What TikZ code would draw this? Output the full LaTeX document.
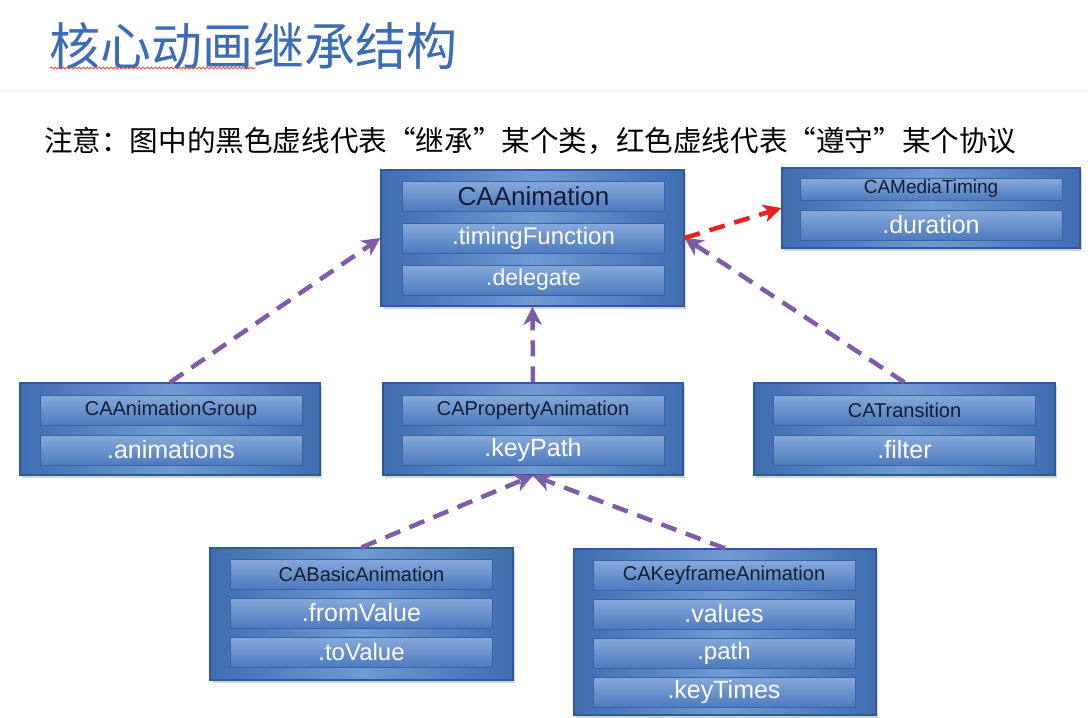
\documentclass[tikz,border=0pt]{standalone}
\usepackage{fontspec}
\setmainfont{Liberation Sans}
\newfontfamily\cjk{Noto Sans CJK SC}
\usetikzlibrary{arrows.meta,positioning,shadows,decorations.pathmorphing}
\definecolor{caTitle}{HTML}{3C6CB4}
\definecolor{caEdge}{HTML}{2F5A98}
\definecolor{caDark}{HTML}{3F6DB0}
\definecolor{caLight}{HTML}{6F9AD3}
\definecolor{caBarTop}{HTML}{86A9DA}
\definecolor{caBarBot}{HTML}{4D7BBE}
\definecolor{caBarEdge}{HTML}{3864A6}
\definecolor{caInk}{HTML}{141C33}
\definecolor{caPurple}{HTML}{7D5CA8}
\definecolor{caRed}{HTML}{E8231E}

\begin{document}
\begin{tikzpicture}[
  x=1pt,y=-1pt,
  classbox/.style={draw=caEdge,line width=1.2pt,left color=caDark,right color=caDark,
                   middle color=caLight,minimum width=302pt,inner sep=0pt,
                   drop shadow={shadow xshift=2pt,shadow yshift=-3pt,opacity=.35}},
  bar/.style={draw=caBarEdge,line width=0.8pt,top color=caBarTop,bottom color=caBarBot,
              minimum width=262pt,minimum height=30pt,inner sep=0pt,
              text=white,font=\fontsize{25pt}{27pt}\selectfont},
  headbar/.style={bar,text=caInk,font=\fontsize{20pt}{22pt}\selectfont},
  inherit/.style={caPurple,line width=4.5pt,dash pattern=on 16pt off 10pt,
                  -{Stealth[length=18pt,width=18pt,inset=5pt]}},
  conform/.style={inherit,caRed}
]
\useasboundingbox (0,0) rectangle (1088,718);

% heading and note
\node[anchor=west,inner sep=0pt,text=caTitle,font=\cjk\fontsize{51pt}{55pt}\selectfont]
  (title) at (49,46) {核心动画继承结构};
\draw[caRed!80,line width=0.9pt,decorate,decoration={snake,amplitude=1pt,segment length=4pt}]
  (50,68) -- (256,68);
\draw[black!5,line width=1pt] (0,90) -- (1088,90);
\node[anchor=west,inner sep=0pt,font=\cjk\fontsize{28.6pt}{31pt}\selectfont]
  (note) at (44,141) {注意：图中的黑色虚线代表“继承”某个类，红色虚线代表“遵守”某个协议};

% CAAnimation
\node[classbox,minimum width=303pt,minimum height=136pt] (anim) at (532.5,238) {};
\node[headbar,font=\fontsize{26pt}{28pt}\selectfont] (animH) at (533.5,196) {CAAnimation};
\node[bar,font=\fontsize{24pt}{26pt}\selectfont] (animA) at (533.5,238) {.timingFunction};
\node[bar,font=\fontsize{23pt}{25pt}\selectfont] (animB) at (533.5,280) {.delegate};

% CAMediaTiming
\node[classbox,minimum width=298pt,minimum height=80pt] (timing) at (931,208) {};
\node[headbar,minimum height=22pt,font=\fontsize{19pt}{21pt}\selectfont] (timingH) at (931,189) {CAMediaTiming};
\node[bar] (timingA) at (931,225) {.duration};

% second row
\node[classbox,minimum width=300pt,minimum height=92pt] (group) at (170,429) {};
\node[headbar] (groupH) at (171,410) {CAAnimationGroup};
\node[bar] (groupA) at (171,450) {.animations};

\node[classbox,minimum width=300pt,minimum height=92pt] (prop) at (533,429) {};
\node[headbar] (propH) at (533,410) {CAPropertyAnimation};
\node[bar] (propA) at (533,450) {.keyPath};

\node[classbox,minimum width=301pt,minimum height=92pt] (trans) at (904.5,429) {};
\node[headbar] (transH) at (904.5,410) {CATransition};
\node[bar] (transA) at (904.5,450) {.filter};

% third row
\node[classbox,minimum width=303pt,minimum height=132pt] (basic) at (361.5,614) {};
\node[headbar] (basicH) at (361.5,574) {CABasicAnimation};
\node[bar] (basicA) at (361.5,613) {.fromValue};
\node[bar,font=\fontsize{24pt}{26pt}\selectfont] (basicB) at (361.5,652) {.toValue};

\node[classbox,minimum width=302pt,minimum height=166pt] (key) at (725,632) {};
\node[headbar] (keyH) at (724,575) {CAKeyframeAnimation};
\node[bar] (keyA) at (724,614) {.values};
\node[bar,font=\fontsize{24pt}{26pt}\selectfont] (keyB) at (724,653) {.path};
\node[bar] (keyC) at (724,692) {.keyTimes};

% inheritance and protocol
\draw[inherit] (group.north) -- (anim.west);
\draw[inherit] (prop.north) -- (anim.south);
\draw[inherit] (trans.north) -- (anim.east);
\draw[inherit] (basic.north) -- (prop.south);
\draw[inherit] (key.north) -- (prop.south);
\draw[conform] (anim.east) -- (timing.west);
\end{tikzpicture}
\end{document}
